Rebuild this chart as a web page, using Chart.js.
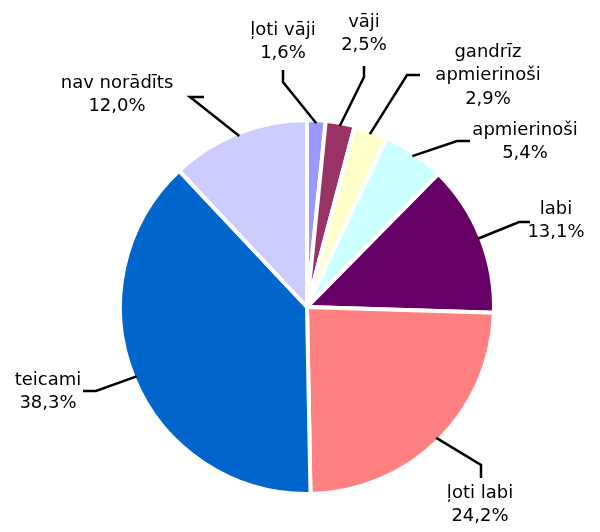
<!DOCTYPE html>
<html>
<head>
<meta charset="utf-8">
<script src="https://cdn.jsdelivr.net/npm/chart.js@4/dist/chart.umd.min.js"></script>
<style>
  html, body { margin: 0; padding: 0; background: #fff; }
  #wrap { width: 600px; height: 532px; }
</style>
</head>
<body>
<div id="wrap"><canvas id="pie" width="600" height="532"></canvas></div>
<script>
const categories = ["ļoti vāji", "vāji", "gandrīz apmierinoši", "apmierinoši", "labi", "ļoti labi", "teicami", "nav norādīts"];
const shares = [1.6, 2.5, 2.9, 5.4, 13.1, 24.2, 38.3, 12.0];
const colors = ["#9999FF", "#993366", "#FFFFCC", "#CCFFFF", "#660066", "#FF8080", "#0066CC", "#CCCCFF"];

// label text lines (category may wrap) and leader line elbows, relative to pie centre
const labelLines = [["ļoti vāji"], ["vāji"], ["gandrīz", "apmierinoši"], ["apmierinoši"], ["labi"], ["ļoti labi"], ["teicami"], ["nav norādīts"]];
const labelLayout = [
  { tx: -24, ty: -277, pts: [[-24, -225], [-24, -237]] },
  { tx: 57, ty: -285, pts: [[57, -230], [57, -241]] },
  { tx: 181, ty: -255, pts: [[100, -232], [113, -232]] },
  { tx: 218, ty: -177, pts: [[150, -166], [163, -166]] },
  { tx: 249, ty: -98, pts: [[212, -85], [223, -85]] },
  { tx: 173, ty: 186, pts: [[174, 158], [174, 171]] },
  { tx: -259, ty: 73, pts: [[-211, 84], [-224, 84]] },
  { tx: -190, ty: -224, pts: [[-117, -210], [-103, -210]] }
];

const fmt = v => v.toFixed(1).replace(".", ",") + "%";

const leaderLabels = {
  id: "leaderLabels",
  afterDatasetsDraw(chart) {
    const ctx = chart.ctx;
    const arcs = chart.getDatasetMeta(0).data;
    ctx.save();
    ctx.font = "18px 'DejaVu Sans', sans-serif";
    ctx.fillStyle = "#000";
    ctx.strokeStyle = "#000";
    ctx.lineWidth = 2.5;
    ctx.textAlign = "center";
    ctx.textBaseline = "middle";
    arcs.forEach((arc, i) => {
      const cx = arc.x, cy = arc.y;
      const mid = (arc.startAngle + arc.endAngle) / 2;
      const r = arc.outerRadius - 3;
      const lay = labelLayout[i];
      ctx.beginPath();
      ctx.moveTo(cx + Math.cos(mid) * r, cy + Math.sin(mid) * r);
      lay.pts.forEach(p => ctx.lineTo(cx + p[0], cy + p[1]));
      ctx.stroke();
      const lines = labelLines[i].concat([fmt(shares[i])]);
      lines.forEach((t, k) => ctx.fillText(t, cx + lay.tx, cy + lay.ty + k * 23.5));
    });
    ctx.restore();
  }
};

new Chart(document.getElementById("pie"), {
  type: "pie",
  data: {
    labels: categories,
    datasets: [{
      data: shares,
      backgroundColor: colors,
      borderColor: "#fff",
      borderWidth: 4
    }]
  },
  options: {
    responsive: false,
    animation: false,
    radius: 187,
    rotation: 0,
    layout: { padding: { left: 114, right: 100, top: 100, bottom: 18 } },
    plugins: {
      legend: { display: false },
      tooltip: { enabled: false }
    }
  },
  plugins: [leaderLabels]
});
</script>
</body>
</html>
